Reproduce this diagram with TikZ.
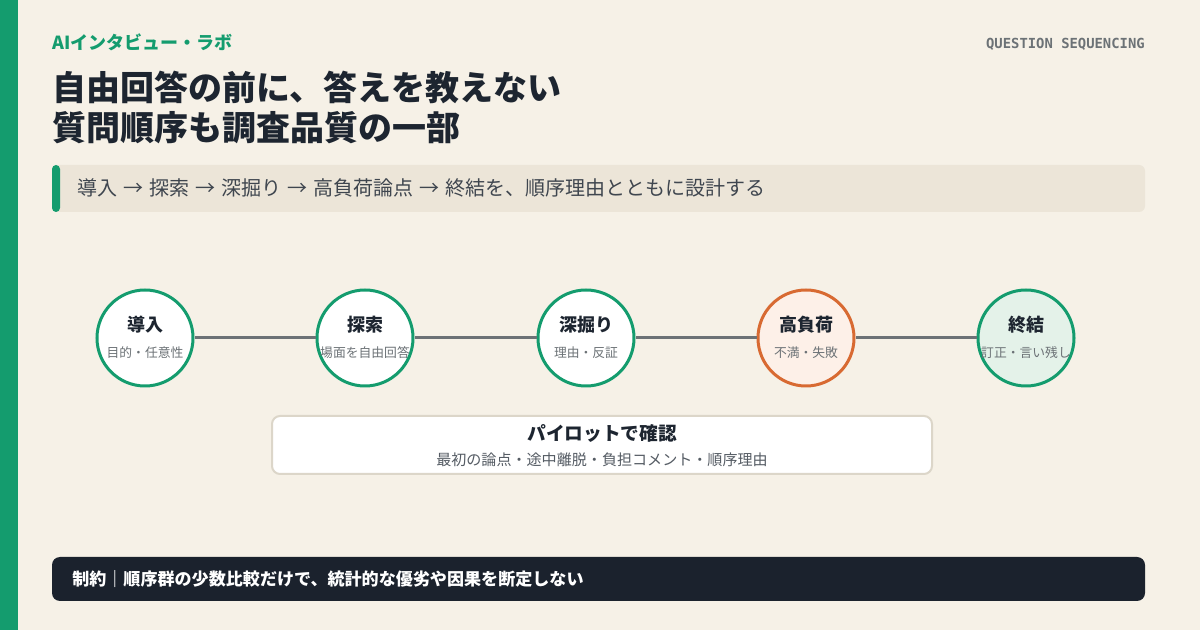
\documentclass[tikz,border=0pt]{standalone}
\usepackage{fontspec}
\setmainfont{Noto Sans CJK JP}
\setmonofont{DejaVu Sans Mono}
\definecolor{paper}{HTML}{F6F1E7}
\definecolor{band}{HTML}{ECE5D8}
\definecolor{leaf}{HTML}{149C6E}
\definecolor{ink}{HTML}{1D2530}
\definecolor{slate}{HTML}{6C7276}
\definecolor{rust}{HTML}{D86A32}
\definecolor{blush}{HTML}{FDF0E8}
\definecolor{mint}{HTML}{E4F2E9}
\definecolor{rim}{HTML}{DCD6C9}
\definecolor{night}{HTML}{1B222D}
\newcommand{\nextstep}{\hspace{0.3em}→\hspace{0.3em}}
\begin{document}
\begin{tikzpicture}[x=0.75pt,y=-0.75pt, inner sep=0pt,
  stage/.style={circle,minimum size=72pt,line width=2.25pt,draw=leaf,fill=white},
  stagetitle/.style={font=\fontsize{13.5pt}{14pt}\selectfont\bfseries,text=ink},
  stagenote/.style={font=\fontsize{9.6pt}{11pt}\selectfont,text=slate},
  link/.style={line width=2.25pt,draw=slate}]
\useasboundingbox (0,0) rectangle (1200,630);
\fill[paper] (0,0) rectangle (1200,630);
\fill[leaf] (0,0) rectangle (18,630);

% header
\node (brand) at (52,42) [anchor=west,text=leaf,font=\fontsize{13.5pt}{14pt}\selectfont\bfseries] {AIインタビュー・ラボ};
\node (tag) at (1145,44) [anchor=east,text=slate,font=\fontsize{10.4pt}{12pt}\selectfont\ttfamily\bfseries] {QUESTION SEQUENCING};
\node (head1) at (52,88) [anchor=west,text=ink,font=\fontsize{25.5pt}{28pt}\selectfont\bfseries] {自由回答の前に、答えを教えない};
\node (head2) at (52,128) [anchor=west,text=ink,font=\fontsize{25.5pt}{28pt}\selectfont\bfseries] {質問順序も調査品質の一部};

% subtitle band
\fill[band,rounded corners=4.5pt] (52,165) rectangle (1145,212);
\fill[leaf,rounded corners=3pt] (52,165) rectangle (60,212);
\node (lead) at (77,188) [anchor=west,text=ink!85,font=\fontsize{15pt}{16pt}\selectfont] {導入\nextstep 探索\nextstep 深掘り\nextstep 高負荷論点\nextstep 終結を、順序理由とともに設計する};

% stages
\node (s1) at (145,338) [stage] {};
\node (s2) at (365,338) [stage] {};
\node (s3) at (586,338) [stage] {};
\node (s4) at (806,338) [stage,draw=rust,fill=blush] {};
\node (s5) at (1026,338) [stage,fill=mint] {};
\draw[link] (s1) -- (s2);
\draw[link] (s2) -- (s3);
\draw[link] (s3) -- (s4);
\draw[link] (s4) -- (s5);
\node (t1) at (145,325) [stagetitle] {導入};
\node (t2) at (365,325) [stagetitle] {探索};
\node (t3) at (586,325) [stagetitle] {深掘り};
\node (t4) at (806,325) [stagetitle] {高負荷};
\node (t5) at (1026,325) [stagetitle] {終結};
\node (d1) at (145,353) [stagenote] {目的・任意性};
\node (d2) at (365,353) [stagenote] {場面を自由回答};
\node (d3) at (586,353) [stagenote] {理由・反証};
\node (d4) at (806,353) [stagenote] {不満・失敗};
\node (d5) at (1026,353) [stagenote] {訂正・言い残し};

% pilot
\draw[rim,fill=white,line width=1.5pt,rounded corners=6pt] (272,416) rectangle (932,474);
\node (pilot) at (602,433) [stagetitle,font=\fontsize{14pt}{15pt}\selectfont\bfseries] {パイロットで確認};
\node (pilotnote) at (602,460) [font=\fontsize{11.3pt}{12pt}\selectfont,text=ink!75] {最初の論点・途中離脱・負担コメント・順序理由};

% limit
\fill[night,rounded corners=6pt] (52,557) rectangle (1145,601);
\node (limit) at (72,579) [anchor=west,text=white,font=\fontsize{12.8pt}{14pt}\selectfont\bfseries] {制約｜順序群の少数比較だけで、統計的な優劣や因果を断定しない};
\end{tikzpicture}
\end{document}
